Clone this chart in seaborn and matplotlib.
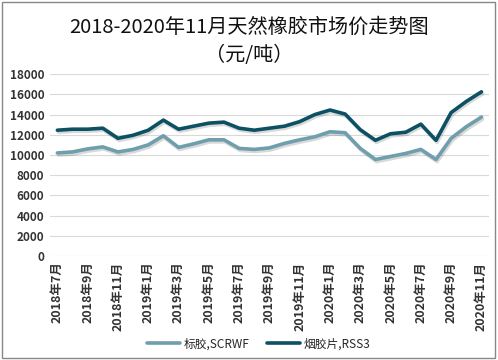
import matplotlib
matplotlib.use('Agg')
import matplotlib.pyplot as plt
import matplotlib.patheffects as pe
import seaborn as sns
import pandas as pd

# months 2018-07 .. 2020-11
months = []
for y, m in [(2018, m) for m in range(7, 13)] + [(2019, m) for m in range(1, 13)] + [(2020, m) for m in range(1, 12)]:
    months.append(f"{y}年{m}月")

scrwf = [10200, 10300, 10600, 10800, 10300, 10550, 11000, 11900, 10750, 11100,
         11500, 11500, 10650, 10550, 10700, 11150, 11500, 11800, 12300, 12200,
         10650, 9550, 9850, 10150, 10550, 9550, 11650, 12800, 13750]
rss3 = [12450, 12550, 12550, 12650, 11650, 11950, 12450, 13450, 12550, 12850,
        13150, 13250, 12650, 12450, 12650, 12850, 13300, 14000, 14450, 14050,
        12500, 11450, 12100, 12250, 13050, 11450, 14200, 15300, 16250]

series_names = ['标胶,SCRWF', '烟胶片,RSS3']
colors = ['#6f9ead', '#0b5063']

df = pd.DataFrame({
    'idx': list(range(len(months))) * 2,
    'price': scrwf + rss3,
    'series': [series_names[0]] * len(months) + [series_names[1]] * len(months),
})

sns.set_style('white')
plt.rcParams['font.family'] = ['Noto Sans CJK SC', 'DejaVu Sans']

fig = plt.figure(figsize=(4.98, 3.6), dpi=100)
ax = fig.add_axes([0.1, 0.289, 0.882, 0.505])

sns.lineplot(data=df, x='idx', y='price', hue='series', palette=colors,
             linewidth=2.6, ax=ax, legend=False)
for line in ax.get_lines():
    line.set_path_effects([pe.SimpleLineShadow(offset=(0.8, -1.5), alpha=0.15),
                           pe.Normal()])

ax.set_xlim(-0.5, len(months) - 0.5)
ax.set_ylim(0, 18000)
ax.set_yticks(range(0, 18001, 2000))
ax.set_yticklabels([str(v) for v in range(0, 18001, 2000)], fontsize=8.5,
                   color='#333333', fontweight='bold')
ax.set_xticks(range(0, len(months), 2))
ax.set_xticklabels(months[::2], rotation=90, fontsize=9, color='#333333',
                   fontweight='bold')
ax.tick_params(axis='both', length=0, pad=4)
ax.grid(axis='y', color='#d9d9d9', linewidth=0.8)
ax.set_xlabel('')
ax.set_ylabel('')
for s in ax.spines.values():
    s.set_visible(False)

fig.text(0.5, 0.925, '2018-2020年11月天然橡胶市场价走势图', ha='center', va='center',
         fontsize=14.5, color='#111111', fontweight='medium')
fig.text(0.5, 0.847, '（元/吨）', ha='center', va='center', fontsize=14.5,
         color='#111111', fontweight='medium')

handles = [plt.Line2D([], [], color=c, linewidth=2.6) for c in colors]
fig.legend(handles, series_names, loc='center', bbox_to_anchor=(0.52, 0.045), ncol=2,
           frameon=False, fontsize=8.5, handlelength=2.8, columnspacing=1.5,
           handletextpad=0.3)

# outer border
fig.patches.append(plt.Rectangle((0.004, 0.006), 0.99, 0.988, transform=fig.transFigure,
                                 fill=False, edgecolor='#888888', linewidth=1))

fig.savefig('out.png', dpi=100)
